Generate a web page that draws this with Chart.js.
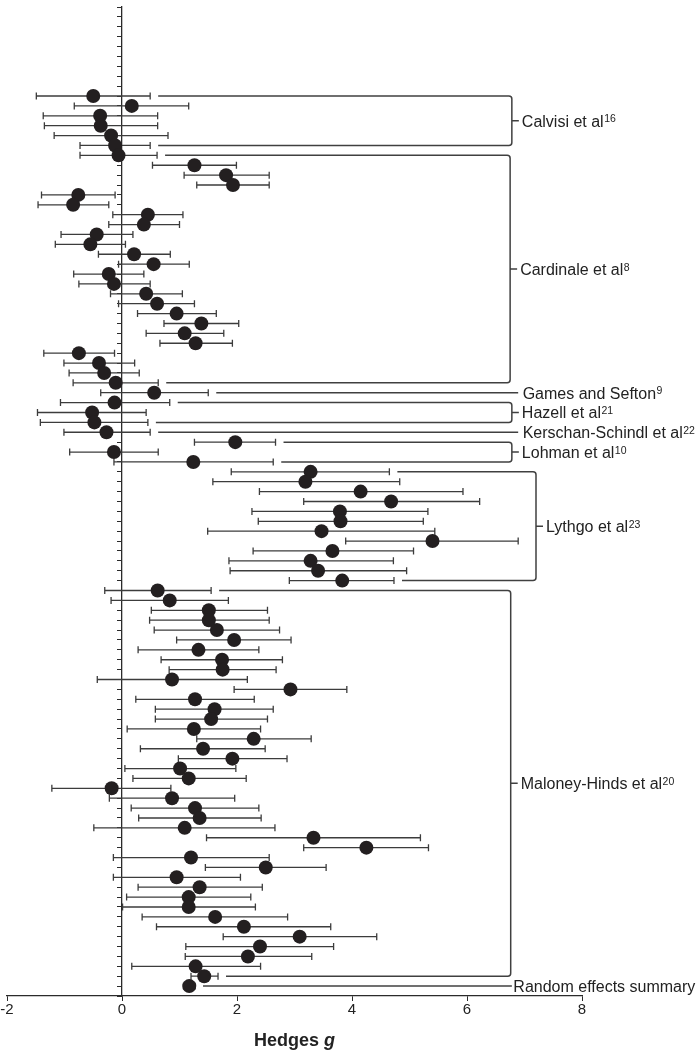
<!DOCTYPE html>
<html>
<head>
<meta charset="utf-8">
<script src="https://cdn.jsdelivr.net/npm/chart.js"></script>
<style>
  body { margin: 0; background: #fff; }
  #wrap { width: 697px; height: 1051px; position: relative; }
</style>
</head>
<body>
<div id="wrap"><canvas id="forest"></canvas></div>
<script>
// effect sizes (Hedges g) and 95% CI, one entry per row from top to bottom
const effect = [
  -0.50, 0.17, -0.38, -0.37, -0.19, -0.12,
  -0.06, 1.26, 1.81, 1.93, -0.76, -0.85, 0.45, 0.38, -0.44, -0.55, 0.21, 0.55,
  -0.23, -0.14, 0.42, 0.61, 0.95, 1.38, 1.09, 1.28, -0.75, -0.40, -0.31, -0.11,
  0.56,
  -0.13, -0.52, -0.48,
  -0.27,
  1.97, -0.14, 1.24,
  3.28, 3.19, 4.15, 4.68, 3.79, 3.80, 3.47, 5.40, 3.66, 3.28, 3.41, 3.83,
  0.62, 0.83, 1.51, 1.51, 1.65, 1.95, 1.33, 1.74, 1.75, 0.87, 2.93, 1.27, 1.61,
  1.55, 1.25, 2.29, 1.41, 1.92, 1.01, 1.16, -0.18, 0.87, 1.27, 1.35, 1.09, 3.33,
  4.25, 1.20, 2.50, 0.95, 1.35, 1.16, 1.16, 1.62, 2.12, 3.09, 2.40, 2.19, 1.28, 1.43,
  1.17
];
const ciLow = [
  -1.49, -0.83, -1.37, -1.35, -1.18, -0.73,
  -0.73, 0.53, 1.08, 1.30, -1.40, -1.46, -0.16, -0.23, -1.06, -1.16, -0.41, -0.06,
  -0.84, -0.75, -0.20, -0.06, 0.27, 0.73, 0.42, 0.66, -1.36, -1.01, -0.92, -0.85,
  -0.37,
  -1.07, -1.47, -1.42,
  -1.01,
  1.26, -0.91, -0.14,
  1.90, 1.58, 2.39, 3.16, 2.26, 2.37, 1.49, 3.89, 2.28, 1.86, 1.88, 2.91,
  -0.30, -0.19, 0.51, 0.48, 0.56, 0.95, 0.28, 0.68, 0.82, -0.43, 1.95, 0.24, 0.58,
  0.58, 0.09, 1.30, 0.32, 0.98, 0.05, 0.19, -1.22, -0.22, 0.16, 0.29, -0.49, 1.47,
  3.16, -0.15, 1.45, -0.15, 0.28, 0.08, 0.01, 0.35, 0.60, 1.76, 1.11, 1.10, 0.17, 1.20,
  1.07
];
const ciHigh = [
  0.49, 1.16, 0.62, 0.62, 0.80, 0.49,
  0.61, 1.99, 2.56, 2.56, -0.12, -0.23, 1.06, 1.00, 0.19, 0.06, 0.84, 1.17,
  0.38, 0.49, 1.05, 1.26, 1.64, 2.03, 1.77, 1.92, -0.13, 0.22, 0.30, 0.63,
  1.50,
  0.83, 0.42, 0.45,
  0.49,
  2.67, 0.63, 2.63,
  4.65, 4.83, 5.93, 6.22, 5.32, 5.24, 5.44, 6.89, 5.07, 4.72, 4.95, 4.73,
  1.55, 1.85, 2.53, 2.56, 2.74, 2.94, 2.38, 2.79, 2.68, 2.18, 3.91, 2.30, 2.63,
  2.53, 2.41, 3.29, 2.49, 2.87, 1.98, 2.16, 0.85, 1.96, 2.38, 2.42, 2.66, 5.19,
  5.33, 2.56, 3.55, 2.06, 2.44, 2.24, 2.32, 2.88, 3.63, 4.43, 3.68, 3.30, 2.41, 1.67,
  1.27
];

// studies and the rows they cover
const studyNames = ['Calvisi et al', 'Cardinale et al', 'Games and Sefton', 'Hazell et al',
  'Kerschan-Schindl et al', 'Lohman et al', 'Lythgo et al', 'Maloney-Hinds et al',
  'Random effects summary'];
const studyRefs = ['16', '8', '9', '21', '22', '10', '23', '20', ''];
const firstRow = [1, 7, 31, 32, 35, 36, 39, 51, 91];
const lastRow = [6, 30, 31, 34, 35, 38, 50, 90, 91];

const xTicks = [-2, 0, 2, 4, 6, 8];

// where each bracket (or connector line) ends, in g units
const bracketAt = [6.78, 6.75, 6.89, 6.78, 6.89, 6.78, 7.2, 6.76, 6.78];

const ink = '#2b2b2b';
const labelFont = '16px "Liberation Sans", Arial, sans-serif';
const supFont = '10.5px "Liberation Sans", Arial, sans-serif';

function drawLabel(ctx, name, ref, tx, ty) {
  ctx.fillStyle = '#222';
  ctx.textAlign = 'left';
  ctx.textBaseline = 'alphabetic';
  ctx.font = labelFont;
  ctx.fillText(name, tx, ty + 6);
  if (ref) {
    const w = ctx.measureText(name).width;
    ctx.font = supFont;
    ctx.fillText(ref, tx + w + 0.5, ty + 1.5);
  }
}

const forestPlugin = {
  id: 'forest',
  beforeDatasetsDraw(chart) {
    const { ctx, scales: { x, y } } = chart;
    ctx.save();

    // error bars
    ctx.strokeStyle = '#3c3c3c';
    ctx.lineWidth = 1.3;
    effect.forEach((g, i) => {
      const py = y.getPixelForValue(i + 1);
      const x1 = x.getPixelForValue(ciLow[i]);
      const x2 = x.getPixelForValue(ciHigh[i]);
      ctx.beginPath();
      ctx.moveTo(x1, py); ctx.lineTo(x2, py);
      ctx.moveTo(x1, py - 3.5); ctx.lineTo(x1, py + 3.5);
      ctx.moveTo(x2, py - 3.5); ctx.lineTo(x2, py + 3.5);
      ctx.stroke();
    });

    // study brackets and labels
    ctx.strokeStyle = '#404040';
    ctx.lineWidth = 1.5;
    studyNames.forEach((name, k) => {
      const top = y.getPixelForValue(firstRow[k]);
      const bot = y.getPixelForValue(lastRow[k]);
      const bx = x.getPixelForValue(bracketAt[k]);
      const s1 = x.getPixelForValue(ciHigh[firstRow[k] - 1]) + 8;
      const s2 = x.getPixelForValue(ciHigh[lastRow[k] - 1]) + 8;
      ctx.beginPath();
      if (firstRow[k] === lastRow[k]) {
        ctx.moveTo(s1, top);
        ctx.lineTo(bx, top);
        ctx.stroke();
        const gap = k === studyNames.length - 1 ? 1.5 : 4.5;
        drawLabel(ctx, name, studyRefs[k], bx + gap, top);
      } else {
        const r = 3;
        const mid = (top + bot) / 2;
        ctx.moveTo(s1, top);
        ctx.arcTo(bx, top, bx, mid, r);
        ctx.arcTo(bx, bot, s2, bot, r);
        ctx.lineTo(s2, bot);
        ctx.moveTo(bx, mid);
        ctx.lineTo(bx + 7, mid);
        ctx.stroke();
        drawLabel(ctx, name, studyRefs[k], bx + 10, mid);
      }
    });
    ctx.restore();
  },
  afterDraw(chart) {
    const { ctx, scales: { x } } = chart;
    const cx = (x.left + x.right) / 2;
    ctx.save();
    ctx.fillStyle = '#222';
    ctx.textBaseline = 'alphabetic';
    ctx.font = 'bold 18px "Liberation Sans", Arial, sans-serif';
    const w1 = ctx.measureText('Hedges ').width;
    ctx.font = 'italic bold 18px "Liberation Sans", Arial, sans-serif';
    const w2 = ctx.measureText('g').width;
    const start = cx - (w1 + w2) / 2;
    ctx.font = 'bold 18px "Liberation Sans", Arial, sans-serif';
    ctx.textAlign = 'left';
    ctx.fillText('Hedges ', start, 1046);
    ctx.font = 'italic bold 18px "Liberation Sans", Arial, sans-serif';
    ctx.fillText('g', start + w1, 1046);
    ctx.restore();
  }
};

new Chart(document.getElementById('forest'), {
  type: 'scatter',
  data: {
    datasets: [{
      data: effect.map((g, i) => ({ x: g, y: i + 1 })),
      backgroundColor: '#231f20',
      borderWidth: 0,
      pointRadius: 7,
      pointHoverRadius: 7
    }]
  },
  options: {
    responsive: true,
    maintainAspectRatio: false,
    animation: false,
    layout: { padding: { top: 0, left: 7, right: 115, bottom: 0 } },
    plugins: { legend: { display: false }, tooltip: { enabled: false } },
    scales: {
      x: {
        type: 'linear',
        position: 'bottom',
        min: -2,
        max: 8,
        afterBuildTicks: (s) => { s.ticks = xTicks.map(v => ({ value: v })); },
        afterFit: (s) => { s.height = 55; },
        grid: { drawOnChartArea: false, drawTicks: true, tickLength: 5, color: ink },
        border: { color: ink, width: 1.3 },
        ticks: {
          padding: 0,
          color: '#222',
          font: { family: '"Liberation Sans", Arial, sans-serif', size: 15 },
          callback: (v) => String(v)
        }
      },
      y: {
        type: 'linear',
        position: { x: 0 },
        reverse: true,
        min: -8,
        max: 92,
        grid: { drawOnChartArea: false, drawTicks: true, tickLength: 4, color: ink },
        border: { color: ink, width: 1.3 },
        ticks: { display: false, stepSize: 1, maxTicksLimit: 200, autoSkip: false }
      }
    }
  },
  plugins: [forestPlugin]
});
</script>
</body>
</html>
